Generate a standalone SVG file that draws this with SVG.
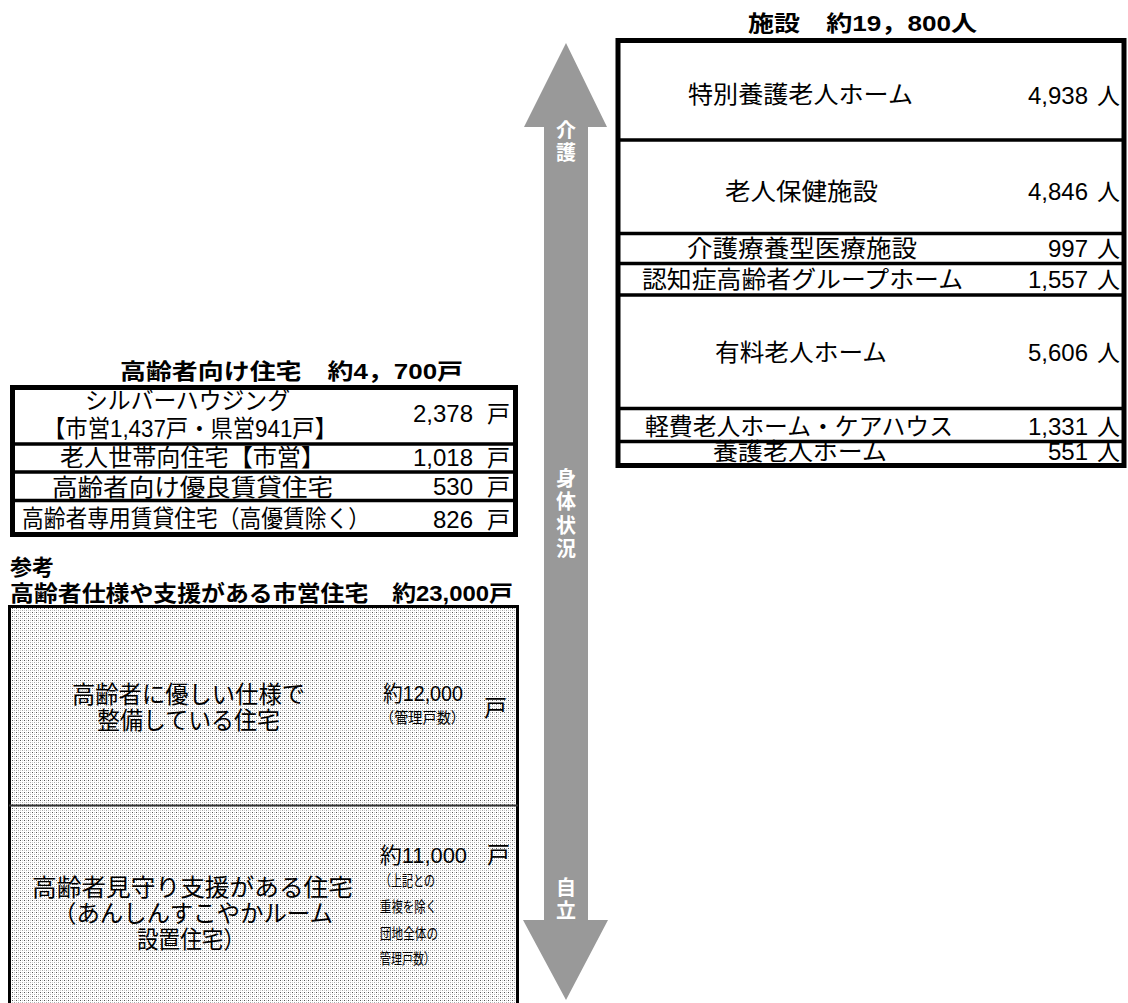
<svg xmlns="http://www.w3.org/2000/svg" width="1128" height="1003" viewBox="0 0 1128 1003">
<style>
.t{font-family:"Liberation Sans","Noto Sans CJK JP",sans-serif;fill:#000}
.n{font-size:24px}
.num{font-size:24px;text-anchor:end}
.u{font-size:23px}
.h{font-size:22px;font-weight:bold}
.ax{font-family:"Noto Sans CJK JP",sans-serif;font-size:20px;font-weight:bold;fill:#fff;writing-mode:vertical-rl;text-orientation:upright}
.box{fill:#fff;stroke:#000;stroke-width:5}
.row{stroke:#000;stroke-width:3.5}
.sm{font-size:15px}
</style>
<defs>
<pattern id="dots" width="4" height="4" patternUnits="userSpaceOnUse">
<rect width="4" height="4" fill="#fff"/>
<rect x="0" y="0" width="1" height="1" fill="#555"/>
<rect x="2" y="2" width="1" height="1" fill="#aaa"/>
<rect x="2" y="0" width="1" height="1" fill="#ccc"/>
<rect x="0" y="2" width="1" height="1" fill="#ccc"/>
</pattern>
</defs>

<g id="axis">
<polygon points="566,43 607,127 588,127 588,920 608,920 566,1000 523,920 544,920 544,127 524,127" fill="#999"/>
<text class="ax" x="566" y="120" letter-spacing="2">介護</text>
<text class="ax" x="566" y="468" letter-spacing="3.5">身体状況</text>
<text class="ax" x="566" y="877" letter-spacing="3">自立</text>
</g>

<g id="facilities">
<text class="t h" x="748" y="31" textLength="229" lengthAdjust="spacingAndGlyphs">施設　約19，800人</text>
<rect class="box" x="618" y="40.5" width="506" height="425"/>
<line class="row" x1="618" y1="140" x2="1124" y2="140"/>
<line class="row" x1="618" y1="233.5" x2="1124" y2="233.5"/>
<line class="row" x1="618" y1="263.5" x2="1124" y2="263.5"/>
<line class="row" x1="618" y1="295" x2="1124" y2="295"/>
<line class="row" x1="618" y1="408.5" x2="1124" y2="408.5"/>
<line class="row" x1="618" y1="441.5" x2="1124" y2="441.5"/>
<text class="t n" x="688" y="103" textLength="225" lengthAdjust="spacingAndGlyphs">特別養護老人ホーム</text>
<text class="t n" x="725" y="200" textLength="153" lengthAdjust="spacingAndGlyphs">老人保健施設</text>
<text class="t n" x="687" y="257" textLength="230" lengthAdjust="spacingAndGlyphs">介護療養型医療施設</text>
<text class="t n" x="642" y="288" textLength="321" lengthAdjust="spacingAndGlyphs">認知症高齢者グループホーム</text>
<text class="t n" x="715" y="361" textLength="172" lengthAdjust="spacingAndGlyphs">有料老人ホーム</text>
<text class="t n" x="645" y="435" textLength="308" lengthAdjust="spacingAndGlyphs">軽費老人ホーム・ケアハウス</text>
<text class="t n" x="713" y="460" textLength="174" lengthAdjust="spacingAndGlyphs">養護老人ホーム</text>
<text class="t num" x="1088" y="104">4,938</text><text class="t u" x="1097" y="104">人</text>
<text class="t num" x="1088" y="200">4,846</text><text class="t u" x="1097" y="200">人</text>
<text class="t num" x="1088" y="257">997</text><text class="t u" x="1097" y="257">人</text>
<text class="t num" x="1088" y="288">1,557</text><text class="t u" x="1097" y="288">人</text>
<text class="t num" x="1088" y="361">5,606</text><text class="t u" x="1097" y="361">人</text>
<text class="t num" x="1088" y="435">1,331</text><text class="t u" x="1097" y="435">人</text>
<text class="t num" x="1088" y="460">551</text><text class="t u" x="1097" y="460">人</text>
</g>

<g id="elderly-housing">
<text class="t h" x="120" y="379" textLength="343" lengthAdjust="spacingAndGlyphs">高齢者向け住宅　約4，700戸</text>
<rect class="box" x="12.5" y="387.5" width="503" height="147"/>
<line class="row" x1="12" y1="444" x2="516" y2="444"/>
<line class="row" x1="12" y1="472" x2="516" y2="472"/>
<line class="row" x1="12" y1="500.5" x2="516" y2="500.5"/>
<text class="t n" x="85" y="409" textLength="205" lengthAdjust="spacingAndGlyphs">シルバーハウジング</text>
<text class="t n" x="43" y="437" textLength="294" lengthAdjust="spacingAndGlyphs">【市営1,437戸・県営941戸】</text>
<text class="t n" x="60" y="466" textLength="265" lengthAdjust="spacingAndGlyphs">老人世帯向住宅【市営】</text>
<text class="t n" x="52" y="496" textLength="281" lengthAdjust="spacingAndGlyphs">高齢者向け優良賃貸住宅</text>
<text class="t n" x="22" y="527" textLength="348" lengthAdjust="spacingAndGlyphs">高齢者専用賃貸住宅（高優賃除く）</text>
<text class="t num" x="473" y="422">2,378</text><text class="t u" x="487" y="422">戸</text>
<text class="t num" x="473" y="466">1,018</text><text class="t u" x="487" y="466">戸</text>
<text class="t num" x="473" y="495">530</text><text class="t u" x="487" y="495">戸</text>
<text class="t num" x="473" y="528">826</text><text class="t u" x="487" y="528">戸</text>
</g>

<g id="reference-housing">
<text class="t h" x="10" y="575" font-size="21">参考</text>
<text class="t h" x="10" y="601" textLength="503" lengthAdjust="spacingAndGlyphs">高齢者仕様や支援がある市営住宅　約23,000戸</text>
<rect x="9.5" y="606.5" width="508" height="420" fill="url(#dots)" stroke="#000" stroke-width="3"/>
<line x1="9" y1="805.5" x2="518" y2="805.5" stroke="#333" stroke-width="2"/>
<text class="t n" x="72" y="703" textLength="233" lengthAdjust="spacingAndGlyphs">高齢者に優しい仕様で</text>
<text class="t n" x="97" y="729" textLength="183" lengthAdjust="spacingAndGlyphs">整備している住宅</text>
<text class="t" x="383" y="701" font-size="22" textLength="80" lengthAdjust="spacingAndGlyphs">約12,000</text>
<text class="t sm" x="380" y="723" textLength="85" lengthAdjust="spacingAndGlyphs">（管理戸数）</text>
<text class="t u" x="484" y="716">戸</text>
<text class="t n" x="32" y="896" textLength="321" lengthAdjust="spacingAndGlyphs">高齢者見守り支援がある住宅</text>
<text class="t n" x="53" y="922" textLength="280" lengthAdjust="spacingAndGlyphs">（あんしんすこやかルーム</text>
<text class="t n" x="137" y="948" textLength="108" lengthAdjust="spacingAndGlyphs">設置住宅）</text>
<text class="t" x="380" y="863" font-size="22" textLength="87" lengthAdjust="spacingAndGlyphs">約11,000</text>
<text class="t sm" x="380" y="886" textLength="55" lengthAdjust="spacingAndGlyphs">（上記との</text>
<text class="t sm" x="380" y="912" textLength="57" lengthAdjust="spacingAndGlyphs">重複を除く</text>
<text class="t sm" x="380" y="939" textLength="58" lengthAdjust="spacingAndGlyphs">団地全体の</text>
<text class="t sm" x="380" y="964" textLength="55" lengthAdjust="spacingAndGlyphs">管理戸数）</text>
<text class="t u" x="487" y="863">戸</text>
</g>
</svg>
